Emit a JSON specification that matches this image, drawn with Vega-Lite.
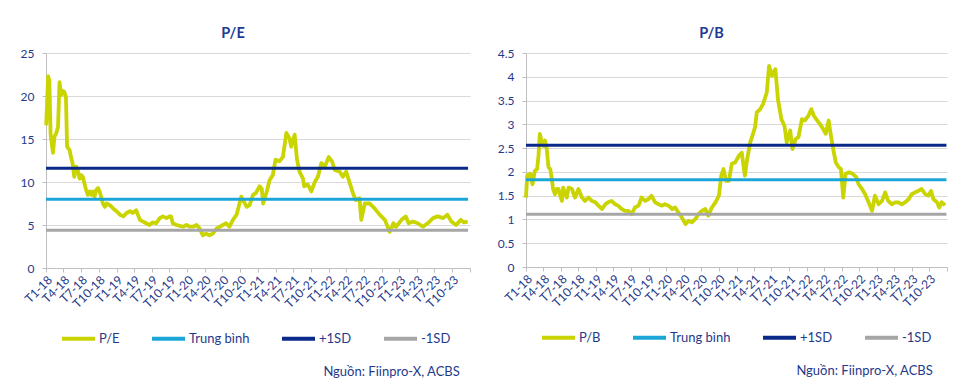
{
  "$schema": "https://vega.github.io/schema/vega-lite/v6.json",
  "background": "white",
  "padding": {"left": 20, "top": 25, "right": 5, "bottom": 2},
  "spacing": 19,
  "config": {
    "font": "Lato, Open Sans, sans-serif",
    "view": {"stroke": null},
    "axis": {"labelColor": "#1f3a8a", "labelFontSize": 12, "domainColor": "#bfbfbf", "tickColor": "#bfbfbf", "tickSize": 4, "title": null},
    "legend": {"labelColor": "#1f3a8a", "labelFontSize": 13, "symbolType": "stroke", "symbolSize": 1089, "symbolStrokeWidth": 4, "labelOffset": 2, "columnPadding": 24, "orient": "bottom", "direction": "horizontal", "title": null, "offset": -4, "padding": 14, "labelLimit": 300}
  },
  "datasets": {
    "pe": [
      {"d":"2018-01-02","v":16.6},{"d":"2018-01-12","v":22.3},{"d":"2018-01-18","v":21.8},{"d":"2018-01-25","v":15.5},{"d":"2018-02-06","v":13.4},{"d":"2018-02-14","v":15.3},{"d":"2018-02-22","v":15.6},{"d":"2018-03-04","v":16.4},{"d":"2018-03-12","v":21.6},{"d":"2018-03-20","v":20.1},{"d":"2018-03-27","v":20.6},{"d":"2018-04-05","v":20.5},{"d":"2018-04-14","v":19.9},{"d":"2018-04-20","v":14.1},{"d":"2018-05-03","v":13.7},{"d":"2018-05-10","v":12.9},{"d":"2018-05-18","v":12.2},{"d":"2018-05-27","v":10.6},{"d":"2018-06-06","v":11.8},{"d":"2018-06-14","v":11.4},{"d":"2018-06-24","v":10.4},{"d":"2018-07-03","v":10.8},{"d":"2018-07-10","v":10.6},{"d":"2018-07-19","v":9.8},{"d":"2018-07-27","v":9.1},{"d":"2018-08-05","v":8.5},{"d":"2018-08-15","v":8.9},{"d":"2018-08-24","v":8.5},{"d":"2018-09-01","v":8.9},{"d":"2018-09-09","v":8.3},{"d":"2018-09-18","v":9.1},{"d":"2018-09-27","v":9.3},{"d":"2018-10-05","v":8.9},{"d":"2018-10-13","v":8.3},{"d":"2018-10-22","v":7.5},{"d":"2018-11-01","v":7.1},{"d":"2018-11-10","v":7.5},{"d":"2018-11-27","v":7.3},{"d":"2018-12-15","v":6.9},{"d":"2019-01-01","v":6.6},{"d":"2019-01-18","v":6.2},{"d":"2019-02-05","v":6.0},{"d":"2019-02-21","v":6.4},{"d":"2019-03-10","v":6.6},{"d":"2019-03-25","v":6.4},{"d":"2019-04-12","v":6.7},{"d":"2019-05-01","v":5.6},{"d":"2019-05-18","v":5.4},{"d":"2019-06-03","v":5.2},{"d":"2019-06-20","v":5.0},{"d":"2019-07-06","v":5.3},{"d":"2019-07-24","v":5.2},{"d":"2019-08-12","v":5.8},{"d":"2019-08-28","v":6.0},{"d":"2019-09-15","v":5.8},{"d":"2019-10-01","v":6.0},{"d":"2019-10-09","v":6.0},{"d":"2019-10-18","v":5.2},{"d":"2019-11-06","v":5.0},{"d":"2019-11-24","v":4.9},{"d":"2019-12-10","v":4.8},{"d":"2019-12-28","v":5.0},{"d":"2020-01-12","v":4.8},{"d":"2020-01-30","v":4.8},{"d":"2020-02-18","v":5.0},{"d":"2020-03-05","v":4.6},{"d":"2020-03-21","v":3.8},{"d":"2020-04-08","v":4.0},{"d":"2020-04-24","v":3.8},{"d":"2020-05-12","v":4.0},{"d":"2020-06-01","v":4.6},{"d":"2020-06-18","v":4.8},{"d":"2020-07-03","v":5.0},{"d":"2020-07-20","v":5.2},{"d":"2020-08-06","v":4.8},{"d":"2020-08-24","v":5.6},{"d":"2020-09-12","v":6.2},{"d":"2020-09-27","v":7.5},{"d":"2020-10-06","v":8.3},{"d":"2020-10-15","v":7.9},{"d":"2020-11-03","v":7.1},{"d":"2020-11-18","v":7.3},{"d":"2020-12-06","v":8.5},{"d":"2020-12-20","v":8.7},{"d":"2021-01-09","v":9.5},{"d":"2021-01-20","v":9.2},{"d":"2021-01-27","v":7.5},{"d":"2021-02-15","v":8.9},{"d":"2021-03-01","v":10.2},{"d":"2021-03-18","v":10.8},{"d":"2021-04-01","v":12.6},{"d":"2021-04-21","v":12.4},{"d":"2021-05-09","v":12.9},{"d":"2021-05-27","v":15.7},{"d":"2021-06-12","v":15.1},{"d":"2021-06-21","v":14.1},{"d":"2021-07-09","v":15.5},{"d":"2021-07-21","v":12.6},{"d":"2021-08-03","v":11.2},{"d":"2021-08-21","v":10.4},{"d":"2021-08-27","v":9.5},{"d":"2021-09-15","v":9.7},{"d":"2021-10-03","v":8.9},{"d":"2021-10-21","v":10.0},{"d":"2021-11-06","v":10.6},{"d":"2021-11-24","v":12.2},{"d":"2021-12-12","v":11.8},{"d":"2022-01-01","v":12.9},{"d":"2022-01-18","v":12.4},{"d":"2022-02-01","v":11.4},{"d":"2022-02-27","v":11.2},{"d":"2022-03-15","v":10.6},{"d":"2022-04-01","v":11.2},{"d":"2022-04-18","v":10.0},{"d":"2022-05-06","v":8.7},{"d":"2022-05-21","v":7.9},{"d":"2022-06-09","v":8.1},{"d":"2022-06-18","v":5.6},{"d":"2022-07-06","v":7.5},{"d":"2022-08-01","v":7.5},{"d":"2022-08-27","v":6.9},{"d":"2022-09-21","v":6.2},{"d":"2022-10-18","v":5.6},{"d":"2022-11-12","v":4.2},{"d":"2022-12-01","v":5.2},{"d":"2022-12-15","v":4.8},{"d":"2023-01-12","v":5.6},{"d":"2023-02-03","v":6.0},{"d":"2023-02-18","v":5.2},{"d":"2023-03-12","v":5.4},{"d":"2023-04-06","v":5.2},{"d":"2023-05-03","v":4.8},{"d":"2023-05-27","v":5.2},{"d":"2023-06-24","v":5.8},{"d":"2023-07-18","v":6.0},{"d":"2023-08-15","v":5.8},{"d":"2023-09-06","v":6.2},{"d":"2023-09-27","v":5.4},{"d":"2023-10-21","v":5.0},{"d":"2023-11-15","v":5.6},{"d":"2023-12-01","v":5.3},{"d":"2023-12-20","v":5.4}
    ],
    "pb": [
      {"d":"2018-01-01","v":1.46},{"d":"2018-01-07","v":1.92},{"d":"2018-01-23","v":1.96},{"d":"2018-02-04","v":1.74},{"d":"2018-02-16","v":2.02},{"d":"2018-02-28","v":2.06},{"d":"2018-03-07","v":2.34},{"d":"2018-03-14","v":2.8},{"d":"2018-03-22","v":2.66},{"d":"2018-04-01","v":2.55},{"d":"2018-04-10","v":2.66},{"d":"2018-04-19","v":2.48},{"d":"2018-04-28","v":2.1},{"d":"2018-05-07","v":2.06},{"d":"2018-05-13","v":1.92},{"d":"2018-05-22","v":1.64},{"d":"2018-06-01","v":1.53},{"d":"2018-06-10","v":1.64},{"d":"2018-06-19","v":1.64},{"d":"2018-06-28","v":1.5},{"d":"2018-07-07","v":1.39},{"d":"2018-07-13","v":1.67},{"d":"2018-07-22","v":1.57},{"d":"2018-08-01","v":1.46},{"d":"2018-08-10","v":1.67},{"d":"2018-08-28","v":1.64},{"d":"2018-09-13","v":1.46},{"d":"2018-10-01","v":1.64},{"d":"2018-10-19","v":1.46},{"d":"2018-11-04","v":1.39},{"d":"2018-11-22","v":1.46},{"d":"2018-12-10","v":1.39},{"d":"2018-12-28","v":1.36},{"d":"2019-01-13","v":1.29},{"d":"2019-02-01","v":1.22},{"d":"2019-02-18","v":1.32},{"d":"2019-03-04","v":1.36},{"d":"2019-03-22","v":1.39},{"d":"2019-04-10","v":1.32},{"d":"2019-04-25","v":1.29},{"d":"2019-05-13","v":1.22},{"d":"2019-06-01","v":1.18},{"d":"2019-06-19","v":1.18},{"d":"2019-07-04","v":1.11},{"d":"2019-07-22","v":1.25},{"d":"2019-08-10","v":1.29},{"d":"2019-08-25","v":1.46},{"d":"2019-09-13","v":1.39},{"d":"2019-10-01","v":1.43},{"d":"2019-10-16","v":1.5},{"d":"2019-11-04","v":1.36},{"d":"2019-11-22","v":1.32},{"d":"2019-12-10","v":1.29},{"d":"2019-12-25","v":1.32},{"d":"2020-01-13","v":1.29},{"d":"2020-02-01","v":1.22},{"d":"2020-02-16","v":1.25},{"d":"2020-03-04","v":1.15},{"d":"2020-03-22","v":1.04},{"d":"2020-04-10","v":0.9},{"d":"2020-04-25","v":0.97},{"d":"2020-05-13","v":0.94},{"d":"2020-06-01","v":1.01},{"d":"2020-06-16","v":1.11},{"d":"2020-07-04","v":1.18},{"d":"2020-07-22","v":1.22},{"d":"2020-08-07","v":1.08},{"d":"2020-08-25","v":1.25},{"d":"2020-09-13","v":1.36},{"d":"2020-10-01","v":1.5},{"d":"2020-10-13","v":1.92},{"d":"2020-10-25","v":2.06},{"d":"2020-11-07","v":1.81},{"d":"2020-11-22","v":1.81},{"d":"2020-12-07","v":2.17},{"d":"2020-12-25","v":2.2},{"d":"2021-01-13","v":2.34},{"d":"2021-01-28","v":2.4},{"d":"2021-02-13","v":1.92},{"d":"2021-02-25","v":2.27},{"d":"2021-03-13","v":2.62},{"d":"2021-03-22","v":2.73},{"d":"2021-04-07","v":2.94},{"d":"2021-04-16","v":3.25},{"d":"2021-05-04","v":3.32},{"d":"2021-05-19","v":3.43},{"d":"2021-06-07","v":3.67},{"d":"2021-06-19","v":4.23},{"d":"2021-07-04","v":4.02},{"d":"2021-07-22","v":4.16},{"d":"2021-08-04","v":3.53},{"d":"2021-08-22","v":3.11},{"d":"2021-09-07","v":2.97},{"d":"2021-09-19","v":2.62},{"d":"2021-10-07","v":2.87},{"d":"2021-10-19","v":2.48},{"d":"2021-11-04","v":2.69},{"d":"2021-11-19","v":2.73},{"d":"2021-12-07","v":3.11},{"d":"2021-12-22","v":3.08},{"d":"2022-01-10","v":3.18},{"d":"2022-01-25","v":3.32},{"d":"2022-02-07","v":3.18},{"d":"2022-02-25","v":3.08},{"d":"2022-03-10","v":3.01},{"d":"2022-03-28","v":2.9},{"d":"2022-04-10","v":2.8},{"d":"2022-04-25","v":3.08},{"d":"2022-05-07","v":2.76},{"d":"2022-05-19","v":2.48},{"d":"2022-06-01","v":2.2},{"d":"2022-06-16","v":2.1},{"d":"2022-06-28","v":2.06},{"d":"2022-07-10","v":1.46},{"d":"2022-07-22","v":1.96},{"d":"2022-08-10","v":1.99},{"d":"2022-08-28","v":1.96},{"d":"2022-09-16","v":1.89},{"d":"2022-09-28","v":1.74},{"d":"2022-10-16","v":1.64},{"d":"2022-11-01","v":1.53},{"d":"2022-11-19","v":1.36},{"d":"2022-12-07","v":1.18},{"d":"2022-12-22","v":1.5},{"d":"2023-01-10","v":1.32},{"d":"2023-01-28","v":1.39},{"d":"2023-02-13","v":1.57},{"d":"2023-03-01","v":1.39},{"d":"2023-03-19","v":1.32},{"d":"2023-04-07","v":1.36},{"d":"2023-04-22","v":1.36},{"d":"2023-05-10","v":1.32},{"d":"2023-05-28","v":1.36},{"d":"2023-06-16","v":1.43},{"d":"2023-07-01","v":1.53},{"d":"2023-07-19","v":1.57},{"d":"2023-08-04","v":1.6},{"d":"2023-08-22","v":1.64},{"d":"2023-09-10","v":1.53},{"d":"2023-09-25","v":1.5},{"d":"2023-10-10","v":1.6},{"d":"2023-10-22","v":1.43},{"d":"2023-11-10","v":1.36},{"d":"2023-11-22","v":1.25},{"d":"2023-12-04","v":1.36},{"d":"2023-12-22","v":1.3}
    ],
    "peRef": [
      {"s":"Trung bình","v":8.0,"d0":"2018-01-01","d1":"2023-12-22"},
      {"s":"+1SD","v":11.6,"d0":"2018-01-01","d1":"2023-12-22"},
      {"s":"-1SD","v":4.4,"d0":"2018-01-01","d1":"2023-12-22"}
    ],
    "pbRef": [
      {"s":"Trung bình","v":1.835,"d0":"2018-01-01","d1":"2023-12-29"},
      {"s":"+1SD","v":2.56,"d0":"2018-01-01","d1":"2023-12-29"},
      {"s":"-1SD","v":1.11,"d0":"2018-01-01","d1":"2023-12-29"}
    ]
  },
  "resolve": {"scale": {"color": "independent", "y": "independent"}, "legend": {"color": "independent"}},
  "hconcat": [
    {
      "title": {"text": "Nguồn: Fiinpro-X, ACBS", "orient": "bottom", "anchor": "end", "dx": -18, "fontSize": 13, "fontWeight": "normal", "color": "#1f3a8a", "offset": 5},
      "vconcat": [
        {
          "width": 424,
          "height": 215,
          "title": {"text": "P/E", "anchor": "middle", "frame": "group", "dx": -25, "fontSize": 14.5, "fontWeight": "bold", "color": "#1f3a93", "offset": 6},
          "layer": [
            {
              "data": {"name": "pe"},
              "mark": {"type": "line", "strokeWidth": 3.8, "strokeJoin": "round"},
              "encoding": {
                "x": {"field": "d", "type": "temporal",
                  "scale": {"type": "utc", "domain": [{"year": 2018, "month": 1, "date": 1, "utc": true}, {"year": 2024, "month": 1, "date": 1, "utc": true}], "nice": false},
                  "axis": {"tickCount": {"interval": "month", "step": 3}, "labelAngle": -45, "labelOverlap": false, "grid": false, "labelPadding": 2,
                    "labelExpr": "utcyear(datum.value) >= 2024 ? '' : utcFormat(datum.value, 'T%-m-%y')"}},
                "y": {"field": "v", "type": "quantitative", "scale": {"domain": [0, 25], "nice": false},
                  "axis": {"values": [0, 5, 10, 15, 20, 25], "grid": true, "gridColor": "#d9d9d9", "labelPadding": 8}},
                "color": {"datum": "P/E", "type": "nominal",
                  "scale": {"domain": ["P/E", "Trung bình", "+1SD", "-1SD"], "range": ["#c9d400", "#1ca6d8", "#0a2a8a", "#a6a6a6"]}}
              }
            },
            {
              "data": {"name": "peRef"},
              "mark": {"type": "rule", "strokeWidth": 3},
              "encoding": {
                "x": {"field": "d0", "type": "temporal",
                  "axis": {"tickCount": {"interval": "month", "step": 3}, "labelAngle": -45, "labelOverlap": false, "grid": false, "labelPadding": 2,
                    "labelExpr": "utcyear(datum.value) >= 2024 ? '' : utcFormat(datum.value, 'T%-m-%y')"}},
                "x2": {"field": "d1"},
                "y": {"field": "v", "type": "quantitative",
                  "axis": {"values": [0, 5, 10, 15, 20, 25], "grid": true, "gridColor": "#d9d9d9", "labelPadding": 8}},
                "color": {"field": "s", "type": "nominal"}
              }
            }
          ]
        }
      ]
    },
    {
      "title": {"text": "Nguồn: Fiinpro-X, ACBS", "orient": "bottom", "anchor": "end", "dx": -22, "fontSize": 13, "fontWeight": "normal", "color": "#1f3a8a", "offset": 5},
      "vconcat": [
        {
          "width": 421,
          "height": 214,
          "title": {"text": "P/B", "anchor": "middle", "frame": "group", "dx": -25, "fontSize": 14.5, "fontWeight": "bold", "color": "#1f3a93", "offset": 6},
          "layer": [
            {
              "data": {"name": "pb"},
              "mark": {"type": "line", "strokeWidth": 3.8, "strokeJoin": "round"},
              "encoding": {
                "x": {"field": "d", "type": "temporal",
                  "scale": {"type": "utc", "domain": [{"year": 2018, "month": 1, "date": 1, "utc": true}, {"year": 2024, "month": 1, "date": 1, "utc": true}], "nice": false},
                  "axis": {"tickCount": {"interval": "month", "step": 3}, "labelAngle": -45, "labelOverlap": false, "grid": false, "labelPadding": 2,
                    "labelExpr": "utcyear(datum.value) >= 2024 ? '' : utcFormat(datum.value, 'T%-m-%y')"}},
                "y": {"field": "v", "type": "quantitative", "scale": {"domain": [0, 4.5], "nice": false},
                  "axis": {"values": [0, 0.5, 1, 1.5, 2, 2.5, 3, 3.5, 4, 4.5], "format": ".1~f", "labelOverlap": false, "grid": true, "gridColor": "#d9d9d9", "labelPadding": 8}},
                "color": {"datum": "P/B", "type": "nominal",
                  "scale": {"domain": ["P/B", "Trung bình", "+1SD", "-1SD"], "range": ["#c9d400", "#1ca6d8", "#0a2a8a", "#a6a6a6"]}}
              }
            },
            {
              "data": {"name": "pbRef"},
              "mark": {"type": "rule", "strokeWidth": 3},
              "encoding": {
                "x": {"field": "d0", "type": "temporal",
                  "axis": {"tickCount": {"interval": "month", "step": 3}, "labelAngle": -45, "labelOverlap": false, "grid": false, "labelPadding": 2,
                    "labelExpr": "utcyear(datum.value) >= 2024 ? '' : utcFormat(datum.value, 'T%-m-%y')"}},
                "x2": {"field": "d1"},
                "y": {"field": "v", "type": "quantitative",
                  "axis": {"values": [0, 0.5, 1, 1.5, 2, 2.5, 3, 3.5, 4, 4.5], "format": ".1~f", "labelOverlap": false, "grid": true, "gridColor": "#d9d9d9", "labelPadding": 8}},
                "color": {"field": "s", "type": "nominal"}
              }
            }
          ]
        }
      ]
    }
  ]
}
